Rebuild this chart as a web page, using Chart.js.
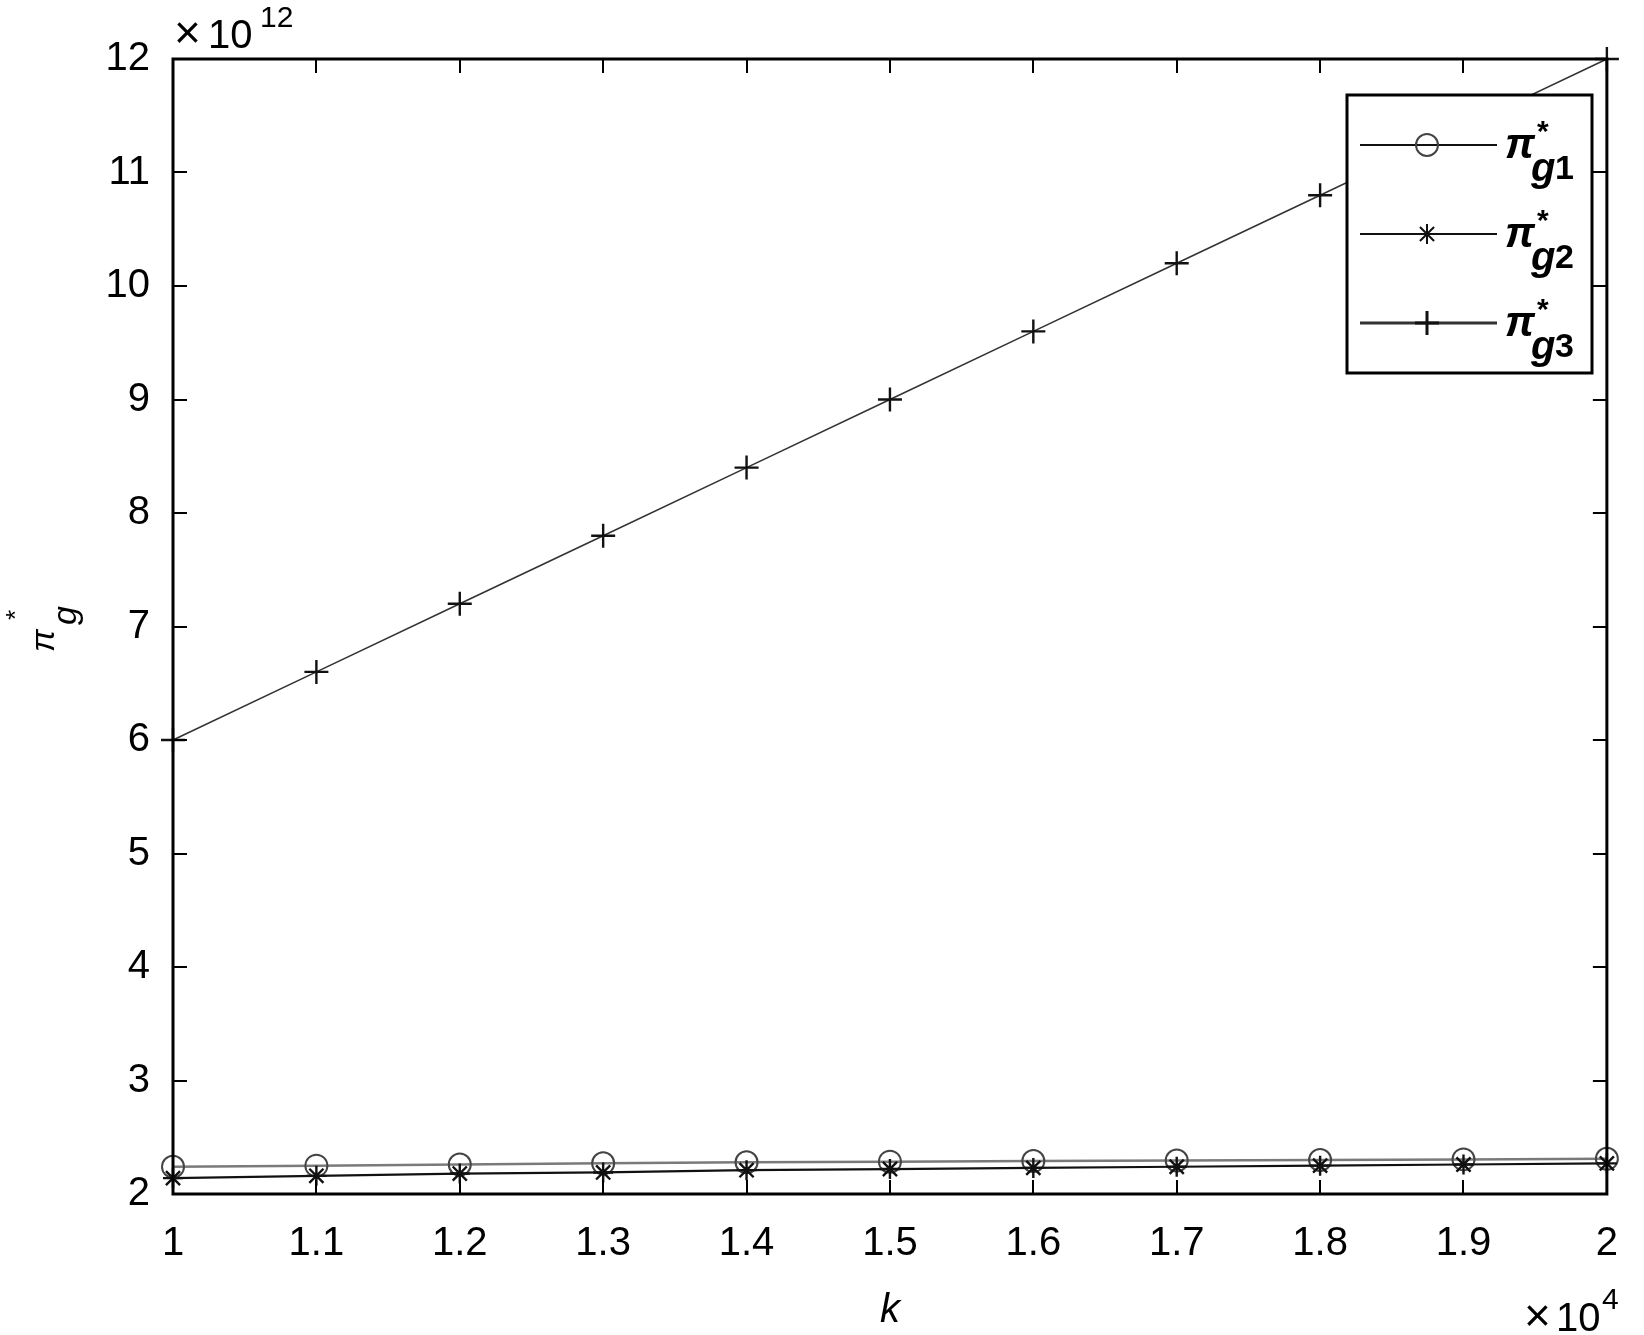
<!DOCTYPE html>
<html><head><meta charset="utf-8">
<script src="https://cdn.jsdelivr.net/npm/chart.js@4.4.1/dist/chart.umd.min.js"></script>
<style>html,body{margin:0;padding:0;background:#fff;}#wrap{width:1644px;height:1335px;position:relative;background:#fff}</style>
</head><body><div id="wrap"><canvas id="c" width="1644" height="1335"></canvas></div>
<script>
// ---- data ----
const kValues = [10000, 11000, 12000, 13000, 14000, 15000, 16000, 17000, 18000, 19000, 20000];
const xTickValues = [10000, 11000, 12000, 13000, 14000, 15000, 16000, 17000, 18000, 19000, 20000];
const yTickValues = [2, 3, 4, 5, 6, 7, 8, 9, 10, 11, 12];
// values in units of 10^12
const piG1 = [2.24, 2.25, 2.26, 2.27, 2.28, 2.285, 2.29, 2.295, 2.30, 2.305, 2.31];
const piG2 = [2.14, 2.16, 2.18, 2.19, 2.21, 2.22, 2.23, 2.24, 2.25, 2.26, 2.27];
const piG3 = [6.0, 6.6, 7.2, 7.8, 8.4, 9.0, 9.6, 10.2, 10.8, 11.4, 12.0];
const seriesSubs = ['g1', 'g2', 'g3'];
const xExponent = '4';
const yExponent = '12';
const xTitle = 'k';

const FONT = '"Liberation Sans", Arial, sans-serif';
const styles = [
  {line: '#7a7a7a', width: 2.5, point: 'circle', r: 11, pcol: '#444', pw: 2},
  {line: '#111111', width: 2.2, point: 'star', r: 10, pcol: '#111', pw: 2.4},
  {line: '#333333', width: 1.6, point: 'cross', r: 12, pcol: '#111', pw: 2.4}
];
const seriesData = [piG1, piG2, piG3];

const datasets = seriesData.map((arr, i) => ({
  label: 'π*' + seriesSubs[i],
  data: kValues.map((k, j) => ({x: k, y: arr[j]})),
  borderColor: styles[i].line,
  borderWidth: styles[i].width,
  pointStyle: styles[i].point,
  pointRadius: styles[i].r,
  pointBorderColor: styles[i].pcol,
  pointBorderWidth: styles[i].pw,
  pointBackgroundColor: 'rgba(0,0,0,0)',
  fill: false,
  tension: 0,
  clip: false,
  order: [2, 1, 0][i]
}));

const decor = {
  id: 'decor',
  afterDatasetsDraw(chart) {
    const ctx = chart.ctx;
    const a = chart.chartArea;
    const xs = chart.scales.x, ys = chart.scales.y;
    ctx.save();
    // inward ticks
    ctx.strokeStyle = '#000';
    ctx.lineWidth = 2;
    const tl = 14;
    ctx.beginPath();
    xTickValues.forEach(v => {
      const px = Math.round(xs.getPixelForValue(v));
      ctx.moveTo(px, a.bottom); ctx.lineTo(px, a.bottom - tl);
      ctx.moveTo(px, a.top); ctx.lineTo(px, a.top + tl);
    });
    yTickValues.forEach(v => {
      const py = Math.round(ys.getPixelForValue(v));
      ctx.moveTo(a.left, py); ctx.lineTo(a.left + tl, py);
      ctx.moveTo(a.right, py); ctx.lineTo(a.right - tl, py);
    });
    ctx.stroke();
    // box
    ctx.lineWidth = 3;
    ctx.strokeRect(a.left, a.top, a.right - a.left, a.bottom - a.top);

    // legend
    const L = {x: 1347, y: 95, w: 245, h: 278};
    ctx.fillStyle = '#fff';
    ctx.fillRect(L.x, L.y, L.w, L.h);
    ctx.lineWidth = 3;
    ctx.strokeStyle = '#000';
    ctx.strokeRect(L.x, L.y, L.w, L.h);
    const rowsY = [145, 234, 323];
    rowsY.forEach((ry, i) => {
      const s = styles[i];
      ctx.strokeStyle = i === 2 ? '#333' : '#111';
      ctx.lineWidth = i === 2 ? 3 : 2;
      ctx.beginPath(); ctx.moveTo(1360, ry); ctx.lineTo(1497, ry); ctx.stroke();
      ctx.strokeStyle = s.pcol;
      ctx.fillStyle = 'rgba(0,0,0,0)';
      Chart.helpers.drawPoint(ctx, {pointStyle: s.point, radius: s.r, borderWidth: s.pw, rotation: 0}, 1427, ry);
      // label π*_{gN}
      ctx.fillStyle = '#000';
      ctx.textAlign = 'left';
      ctx.textBaseline = 'alphabetic';
      ctx.font = 'italic bold 42px ' + FONT;
      ctx.fillText('π', 1505, ry + 13);
      ctx.font = 'bold 30px ' + FONT;
      ctx.fillText('*', 1537, ry - 4);
      ctx.font = 'italic bold 40px ' + FONT;
      ctx.fillText('g', 1531, ry + 36);
      ctx.font = 'bold 34px ' + FONT;
      ctx.fillText(seriesSubs[i].slice(1), 1555, ry + 34);
    });

    // exponents
    ctx.fillStyle = '#000';
    ctx.textAlign = 'left';
    ctx.textBaseline = 'alphabetic';
    ctx.font = '46px ' + FONT;
    ctx.fillText('×', 174, 48);
    ctx.font = '40px ' + FONT;
    ctx.fillText('10', 208, 48);
    ctx.font = '30px ' + FONT;
    ctx.fillText(yExponent, 260, 27);
    ctx.font = '46px ' + FONT;
    ctx.fillText('×', 1524, 1331);
    ctx.font = '40px ' + FONT;
    ctx.fillText('10', 1556, 1331);
    ctx.font = '30px ' + FONT;
    ctx.fillText(xExponent, 1602, 1309);

    // x title
    ctx.font = 'italic 40px ' + FONT;
    ctx.textAlign = 'center';
    ctx.fillText(xTitle, (a.left + a.right) / 2, 1322);

    // y title  π*_g rotated
    ctx.translate(54, 652);
    ctx.rotate(-Math.PI / 2);
    ctx.textAlign = 'left';
    ctx.font = 'italic 34px ' + FONT;
    ctx.fillText('π', 0, 0);
    ctx.font = '26px ' + FONT;
    ctx.fillText('*', 32, -30);
    ctx.font = 'italic 34px ' + FONT;
    ctx.fillText('g', 27, 22);
    ctx.restore();
  }
};

new Chart(document.getElementById('c'), {
  type: 'line',
  data: {datasets},
  options: {
    responsive: false,
    animation: false,
    devicePixelRatio: 1,
    layout: {padding: {top: 59, right: 17, left: 0, bottom: 0}},
    plugins: {legend: {display: false}, tooltip: {enabled: false}},
    scales: {
      x: {
        type: 'linear', min: 10000, max: 20000,
        afterBuildTicks: s => { s.ticks = xTickValues.map(v => ({value: v})); },
        afterFit: s => { s.height = 141; },
        grid: {display: false, drawTicks: false},
        border: {display: false},
        ticks: {
          callback: v => String(+(v / 1e4).toFixed(1)),
          font: {family: FONT, size: 40}, color: '#000', padding: 26,
          maxRotation: 0, autoSkip: false
        }
      },
      y: {
        type: 'linear', min: 2, max: 12,
        afterBuildTicks: s => { s.ticks = yTickValues.map(v => ({value: v})); },
        afterFit: s => { s.width = 173; },
        grid: {display: false, drawTicks: false},
        border: {display: false},
        ticks: {
          font: {family: FONT, size: 40}, color: '#000', padding: 23,
          autoSkip: false
        }
      }
    }
  },
  plugins: [decor]
});
</script></body></html>
